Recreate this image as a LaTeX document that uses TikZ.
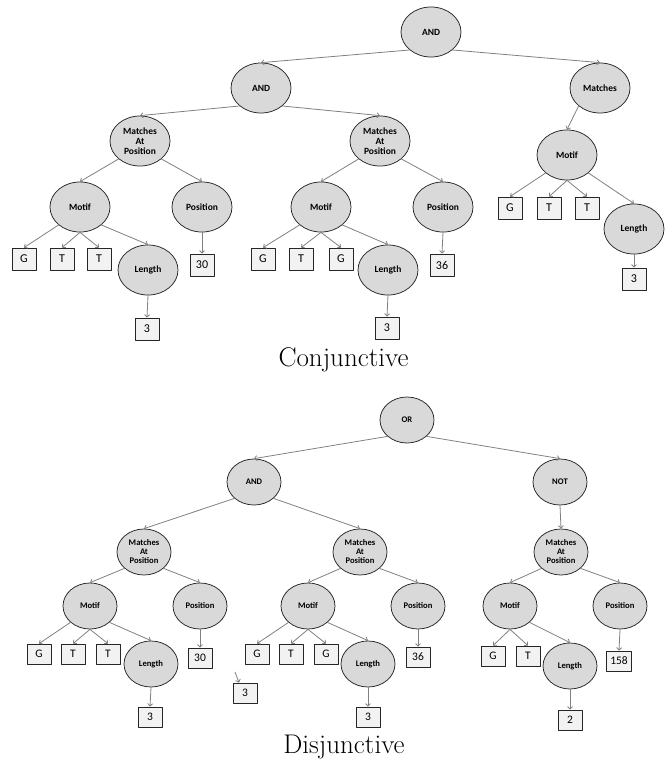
\documentclass[tikz,border=0pt]{standalone}
\usepackage{fontspec}
\newfontfamily\carlito{Carlito}
\usepackage{tikz}
\usetikzlibrary{shapes.geometric,arrows.meta}

\begin{document}
\begin{tikzpicture}[x=1pt, y=-1pt, >={Straight Barb[length=2.5pt,width=5pt]}, line cap=round, line join=round,
		op/.style={ellipse, draw=black!85, fill=gray!30, line width=0.75pt, inner sep=0pt, align=center,
			minimum width=60pt, minimum height=50pt, font=\carlito\bfseries\fontsize{9.5}{10}\selectfont},
		sop/.style={op, minimum width=54pt, minimum height=46pt, font=\carlito\bfseries\fontsize{8.6}{9}\selectfont},
		leaf/.style={rectangle, draw=black!85, fill=gray!10, line width=0.75pt, inner xsep=3.5pt, inner ysep=0pt,
			minimum width=24pt, minimum height=22pt, font=\carlito\fontsize{12}{13}\selectfont},
		sleaf/.style={leaf, minimum height=20pt, font=\carlito\fontsize{11.5}{12}\selectfont},
		link/.style={draw=gray, line width=0.8pt, ->},
		caption/.style={anchor=base, font=\fontsize{27}{30}\selectfont}]
		\useasboundingbox (0,0) rectangle (667,760);
		
		% conjunctive tree
		\node[op] (cAnd) at (431,32) {AND};
		\node[op] (cAndL) at (261,88) {AND};
		\node[op] (cMat) at (600,88) {Matches};
		\node[op] (cMapL) at (140,141) {Matches\\At\\Position};
		\node[op] (cMapM) at (380,141) {Matches\\At\\Position};
		\node[op] (cMotR) at (567,155) {Motif};
		\node[op] (cMotL) at (80,207) {Motif};
		\node[op] (cPosL) at (202,207) {Position};
		\node[op] (cMotM) at (321,207) {Motif};
		\node[op] (cPosM) at (443,207) {Position};
		
		\node[leaf] (cG1) at (24,259) {G};
		\node[leaf] (cT1) at (62,259) {T};
		\node[leaf] (cT2) at (99,259) {T};
		\node[op] (cLenL) at (148,270) {Length};
		\node[leaf] (c30) at (202,265) {30};
		\node[leaf] (c3L) at (147,329) {3};
		
		\node[leaf] (cG2) at (263,259) {G};
		\node[leaf] (cT3) at (301,259) {T};
		\node[leaf] (cG3) at (341,259) {G};
		\node[op] (cLenM) at (388,270) {Length};
		\node[leaf] (c36) at (442,265) {36};
		\node[leaf] (c3M) at (387,328) {3};
		
		\node[leaf] (cG4) at (510,208) {G};
		\node[leaf] (cT4) at (549,208) {T};
		\node[leaf] (cT5) at (587,208) {T};
		\node[op] (cLenR) at (634,229) {Length};
		\node[leaf] (c3R) at (634,279) {3};
		
		\draw[link] (cAnd.-140) -- (cAndL.north);
		\draw[link] (cAnd.-40) -- (cMat.north);
		\draw[link] (cAndL.-140) -- (cMapL.north);
		\draw[link] (cAndL.-40) -- (cMapM.north);
		\draw[link] (cMat.-140) -- (cMotR.north);
		\draw[link] (cMapL.-140) -- (cMotL.north);
		\draw[link] (cMapL.-40) -- (cPosL.north);
		\draw[link] (cMapM.-140) -- (cMotM.north);
		\draw[link] (cMapM.-40) -- (cPosM.north);
		
		\draw[link] (cMotL.-140) -- (cG1.north);
		\draw[link] (cMotL.south) -- (cT1.north);
		\draw[link] (cMotL.south) -- (cT2.north);
		\draw[link] (cMotL.-40) -- (cLenL.north);
		\draw[link] (cLenL.south) -- (c3L.north);
		\draw[link] (cPosL.south) -- (c30.north);
		
		\draw[link] (cMotM.-140) -- (cG2.north);
		\draw[link] (cMotM.south) -- (cT3.north);
		\draw[link] (cMotM.south) -- (cG3.north);
		\draw[link] (cMotM.-40) -- (cLenM.north);
		\draw[link] (cLenM.south) -- (c3M.north);
		\draw[link] (cPosM.south) -- (c36.north);
		
		\draw[link] (cMotR.-140) -- (cG4.north);
		\draw[link] (cMotR.south) -- (cT4.north);
		\draw[link] (cMotR.south) -- (cT5.north);
		\draw[link] (cMotR.-40) -- (cLenR.north);
		\draw[link] (cLenR.south) -- (c3R.north);
		
		\node[caption] (cCap) at (343.5,366) {Conjunctive};
		
		% disjunctive tree
		\node[sop] (dOr) at (407,420) {OR};
		\node[sop] (dAnd) at (254,482) {AND};
		\node[sop] (dNot) at (560,482) {NOT};
		\node[sop] (dMapL) at (144,552) {Matches\\At\\Position};
		\node[sop] (dMapM) at (360,552) {Matches\\At\\Position};
		\node[sop] (dMapR) at (561,552) {Matches\\At\\Position};
		\node[sop] (dMotL) at (90,606) {Motif};
		\node[sop] (dPosL) at (200,606) {Position};
		\node[sop] (dMotM) at (308,606) {Motif};
		\node[sop] (dPosM) at (418,606) {Position};
		\node[sop] (dMotR) at (510,606) {Motif};
		\node[sop] (dPosR) at (620,606) {Position};
		
		\node[sleaf] (dG1) at (39,654) {G};
		\node[sleaf] (dT1) at (73,654) {T};
		\node[sleaf] (dT2) at (108,654) {T};
		\node[sop] (dLenL) at (151,664) {Length};
		\node[sleaf] (d30) at (200,658) {30};
		\node[sleaf] (d3L) at (150,717) {3};
		
		\node[sleaf] (dStray) at (245,693) {3};
		\coordinate (dStrayTail) at (235,672);
		
		\node[sleaf] (dG2) at (257,654) {G};
		\node[sleaf] (dT3) at (291,654) {T};
		\node[sleaf] (dG3) at (326,654) {G};
		\node[sop] (dLenM) at (368,664) {Length};
		\node[sleaf] (d36) at (418,657) {36};
		\node[sleaf] (d3M) at (368,717) {3};
		
		\node[sleaf] (dG4) at (493,656) {G};
		\node[sleaf] (dT4) at (528,656) {T};
		\node[sop] (dLenR) at (570,666) {Length};
		\node[sleaf] (d158) at (619,661) {158};
		\node[sleaf] (d2) at (570,720) {2};
		
		\draw[link] (dOr.-140) -- (dAnd.north);
		\draw[link] (dOr.-40) -- (dNot.north);
		\draw[link] (dAnd.-140) -- (dMapL.north);
		\draw[link] (dAnd.-40) -- (dMapM.north);
		\draw[link] (dNot.south) -- (dMapR.north);
		\draw[link] (dMapL.-140) -- (dMotL.north);
		\draw[link] (dMapL.-40) -- (dPosL.north);
		\draw[link] (dMapM.-140) -- (dMotM.north);
		\draw[link] (dMapM.-40) -- (dPosM.north);
		\draw[link] (dMapR.-140) -- (dMotR.north);
		\draw[link] (dMapR.-40) -- (dPosR.north);
		
		\draw[link] (dMotL.-140) -- (dG1.north);
		\draw[link] (dMotL.south) -- (dT1.north);
		\draw[link] (dMotL.south) -- (dT2.north);
		\draw[link] (dMotL.-40) -- (dLenL.north);
		\draw[link] (dLenL.south) -- (d3L.north);
		\draw[link] (dPosL.south) -- (d30.north);
		
		\draw[link] (dStrayTail) -- (dStray.120);
		
		\draw[link] (dMotM.-140) -- (dG2.north);
		\draw[link] (dMotM.south) -- (dT3.north);
		\draw[link] (dMotM.south) -- (dG3.north);
		\draw[link] (dMotM.-40) -- (dLenM.north);
		\draw[link] (dLenM.south) -- (d3M.north);
		\draw[link] (dPosM.south) -- (d36.north);
		
		\draw[link] (dMotR.south) -- (dG4.north);
		\draw[link] (dMotR.south) -- (dT4.north);
		\draw[link] (dMotR.-40) -- (dLenR.north);
		\draw[link] (dLenR.south) -- (d2.north);
		\draw[link] (dPosR.south) -- (d158.north);
		
		\node[caption] (dCap) at (344,753) {Disjunctive};
	\end{tikzpicture}
\end{document}
